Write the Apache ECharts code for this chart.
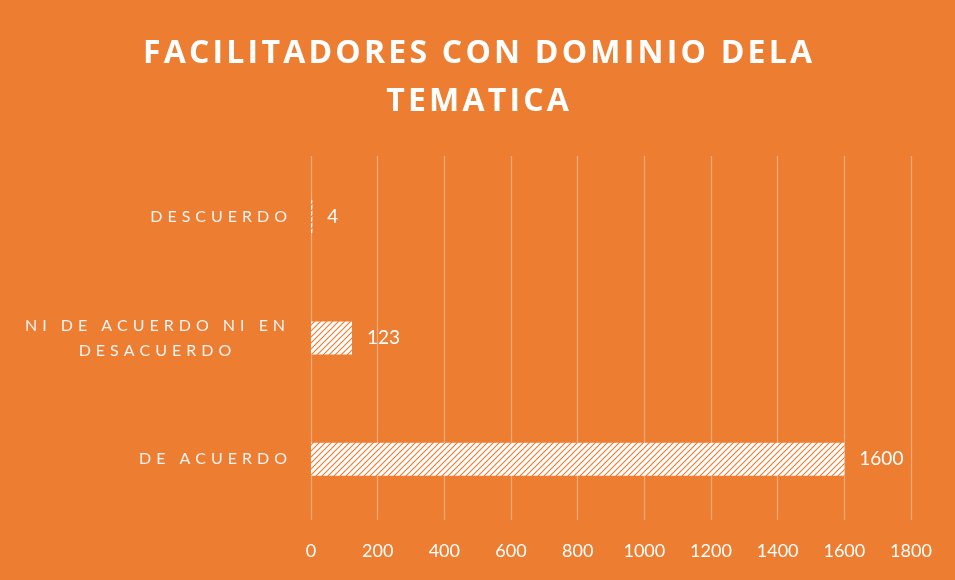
<!DOCTYPE html>
<html>
<head>
<meta charset="utf-8">
<script src="https://cdn.jsdelivr.net/npm/echarts@6/dist/echarts.min.js"></script>
<style>
  html, body { margin: 0; padding: 0; background: #ED7D31; }
  #chart { width: 955px; height: 580px; }
</style>
</head>
<body>
<div id="chart"></div>
<script>
// categories, bottom to top as in the picture
const categories = ['DE ACUERDO', 'NI DE ACUERDO NI EN DESACUERDO', 'DESCUERDO']
const values = [1600, 123, 4]
const xTicks = [0, 200, 400, 600, 800, 1000, 1200, 1400, 1600, 1800]

const orange = '#ED7D31'

// hatch pattern for the bars
function makeHatch() {
  let c = document.createElement('canvas')
  c.width = 6
  c.height = 6
  let ctx = c.getContext('2d')
  ctx.fillStyle = '#ffffff'
  ctx.fillRect(0, 0, 6, 6)
  ctx.strokeStyle = orange
  ctx.lineWidth = 1.2
  ctx.beginPath()
  ctx.moveTo(0, 6); ctx.lineTo(6, 0)
  ctx.moveTo(-3, 3); ctx.lineTo(3, -3)
  ctx.moveTo(3, 9); ctx.lineTo(9, 3)
  ctx.stroke()
  return c
}

// spread the letters a little, like the original
function spaced(s, gap) {
  return s.split('').join(gap)
}

const catGap = '\u2009\u2009\u200A'
const titleGap = '\u200A'

let myChart = echarts.init(document.getElementById('chart'))

let option = {
  backgroundColor: orange,
  title: {
    text: spaced('FACILITADORES CON DOMINIO DELA', titleGap) + '\n' + spaced('TEMATICA', titleGap),
    left: 'center',
    top: 25,
    textStyle: {
      color: '#ffffff',
      fontFamily: 'Open Sans',
      fontWeight: 'bold',
      fontSize: 32,
      lineHeight: 48
    }
  },
  grid: {
    left: 311,
    right: 44,
    top: 156,
    bottom: 60
  },
  xAxis: {
    type: 'value',
    min: 0,
    max: 1800,
    interval: 200,
    axisLine: { show: false },
    axisTick: { show: false },
    splitLine: {
      lineStyle: { color: 'rgba(255,255,255,0.35)', width: 1.3 }
    },
    axisLabel: {
      color: '#ffffff',
      fontFamily: 'Lato',
      fontSize: 18,
      margin: 22,
      formatter: function (v) {
        return String(v)
      }
    }
  },
  yAxis: {
    type: 'category',
    data: categories,
    axisLine: { show: false },
    axisTick: { show: false },
    axisLabel: {
      color: '#f4f4f4',
      fontFamily: 'Lato',
      fontSize: 16,
      margin: 24,
      lineHeight: 25,
      formatter: function (v) {
        if (v === 'NI DE ACUERDO NI EN DESACUERDO') {
          return '{c|' + spaced('NI DE ACUERDO NI EN', catGap) + '}\n{c|' + spaced('DESACUERDO', catGap) + '}'
        }
        return spaced(v, catGap)
      },
      rich: {
        c: {
          width: 264,
          align: 'center',
          color: '#f4f4f4',
          fontFamily: 'Lato',
          fontSize: 16,
          lineHeight: 25
        }
      }
    }
  },
  series: [
    {
      type: 'bar',
      data: values,
      barWidth: 33,
      itemStyle: {
        color: { image: makeHatch(), repeat: 'repeat' }
      },
      label: {
        show: true,
        position: 'right',
        distance: 15,
        color: '#ffffff',
        fontFamily: 'Lato',
        fontSize: 19
      }
    }
  ]
}

myChart.setOption(option)
</script>
</body>
</html>
